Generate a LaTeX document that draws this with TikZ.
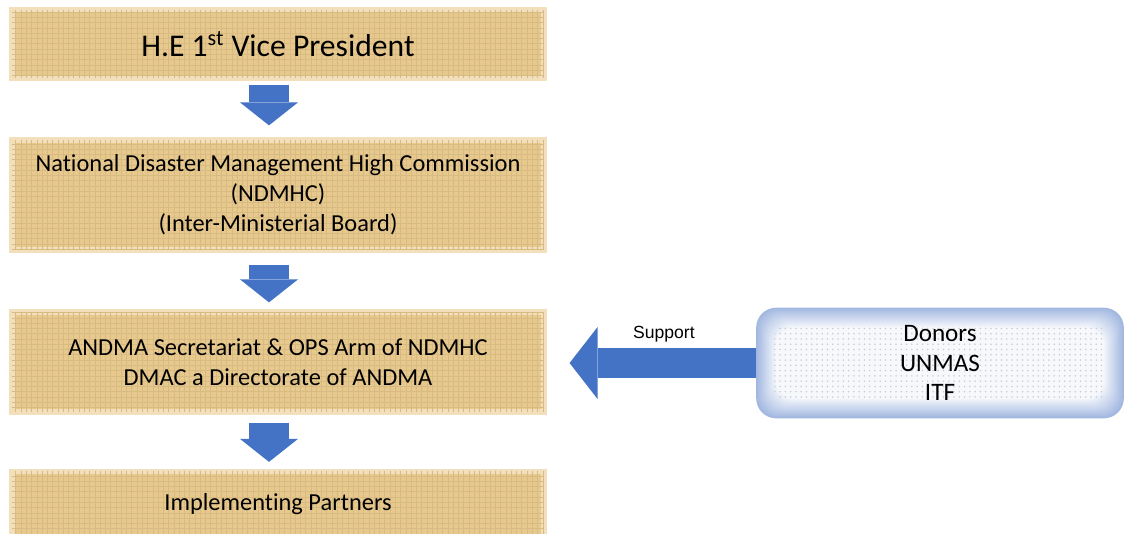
\documentclass[tikz,border=0pt]{standalone}
\usepackage{fontspec}
\setmainfont{Carlito}[Ligatures=NoCommon]
\newfontfamily\supportfont{Liberation Sans}
\usetikzlibrary{arrows.meta,patterns,backgrounds}
\definecolor{papyrus}{HTML}{E8C98D}
\definecolor{papyrusedge}{HTML}{F2E0BD}
\definecolor{officeblue}{HTML}{4472C4}
\definecolor{glow}{HTML}{A3B8E1}
\begin{document}
\begin{tikzpicture}[x=0.02cm,y=-0.02cm,
level/.style={draw=papyrusedge,line width=3pt,fill=papyrus,minimum width=10.64cm,inner sep=0pt,align=center,font=\fontsize{13.9}{17}\selectfont,
  postaction={pattern=grid,pattern color=papyrus!93!black}},
downarrow/.style={draw=officeblue,line width=0.8cm,-{Triangle[width=1.16cm,length=0.46cm,line width=0pt]}},
sidearrow/.style={draw=officeblue,line width=0.6cm,-{Triangle[width=1.44cm,length=0.56cm,line width=0pt]}}]
\useasboundingbox (0,0) rectangle (1126,534);
\node[level,minimum height=1.36cm,font=\fontsize{18}{22}\selectfont] (vp) at (278,44) {H.E 1\textsuperscript{st} Vice President};
\node[level,minimum height=2.2cm] (ndmhc) at (278,195) {National Disaster Management High Commission\\(NDMHC)\\(Inter-Ministerial Board)};
\node[level,minimum height=2cm] (andma) at (278,362) {ANDMA Secretariat \& OPS Arm of NDMHC\\DMAC a Directorate of ANDMA};
\node[level,minimum height=1.3cm] (ip) at (278,504) {Implementing Partners};
\node[minimum width=7.34cm,minimum height=2.2cm,align=center,font=\fontsize{14.3}{16.7}\selectfont] (don) at (940,363) {Donors\\UNMAS\\ITF};
\begin{scope}[on background layer]
\foreach \k [evaluate=\k as \c using 100-7.5*\k] in {0,...,12}
  \fill[glow!\c!white,rounded corners=0.4cm] ([shift={(\k*1.6,-\k*1.6)}]don.south west) rectangle ([shift={(-\k*1.6,\k*1.6)}]don.north east);
\fill[pattern=dots,pattern color=gray!40,rounded corners=0.2cm] ([shift={(18,-18)}]don.south west) rectangle ([shift={(-18,18)}]don.north east);
\end{scope}
\draw[downarrow,shorten <=0.08cm,shorten >=0.24cm] ([xshift=-0.18cm]vp.south) -- ([xshift=-0.18cm]ndmhc.north);
\draw[downarrow,shorten <=0.24cm,shorten >=0.14cm] ([xshift=-0.18cm]ndmhc.south) -- ([xshift=-0.18cm]andma.north);
\draw[downarrow,shorten <=0.16cm,shorten >=0.14cm] ([xshift=-0.18cm]andma.south) -- ([xshift=-0.18cm]ip.north);
\draw[sidearrow,shorten >=0.46cm] (don.west) -- (don.west -| andma.east) node[pos=0.44,above=0pt,font=\supportfont\fontsize{10}{12}\selectfont] (supp) {Support};
\end{tikzpicture}
\end{document}
